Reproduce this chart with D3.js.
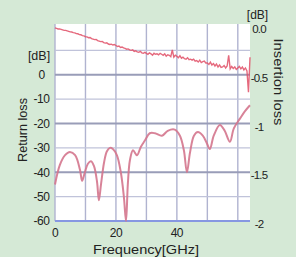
<!DOCTYPE html>
<html>
<head>
<meta charset="utf-8">
<script src="https://cdn.jsdelivr.net/npm/d3@7"></script>
<style>
  body { margin: 0; background: #d5e9d6; }
  svg { display: block; font-family: "Liberation Sans", Arial, sans-serif; }
  text { fill: #222; }
</style>
</head>
<body>
<svg id="chart" width="296" height="257"></svg>
<script>
// return loss [GHz, dB]
const rlFreq = [0, 1.6, 3.3, 4.9, 6.6, 8.2, 8.9, 9.8, 10.8, 11.8, 12.8, 13.8, 14.4, 15.1, 16.1, 17, 18, 19, 20.3, 21.6, 22.6, 23.3, 23.9, 24.6, 25.6, 26.9, 28.2, 29.5, 31.1, 32.8, 35.1, 37, 39.3, 41, 42.3, 43.3, 44.3, 45.6, 46.9, 48.5, 49.8, 50.8, 52.1, 54.1, 55.7, 57.4, 58.7, 60.7, 62.3, 64];
const rlLoss = [-45, -37, -33, -31.7, -33, -39, -43.5, -40, -36.5, -35.5, -37.5, -44, -51.5, -45, -36, -31.5, -30, -30.5, -33, -40, -50, -60, -45, -35, -31, -33, -29.5, -27, -24, -24, -25, -23, -22.5, -25, -31, -40, -32, -25, -23.5, -25, -28, -30.5, -25, -20.6, -23, -27.5, -22, -18, -15, -12.5];

// insertion loss, every 0.5 GHz from 0 to 64 [dB]
const ilLoss = [
  -0.02, -0.025, -0.03, -0.03, -0.035, -0.04, -0.045, -0.045, -0.05, -0.055,
  -0.06, -0.062, -0.068, -0.07, -0.078, -0.08, -0.088, -0.09, -0.098, -0.102,
  -0.11, -0.112, -0.12, -0.118, -0.13, -0.135, -0.14, -0.138, -0.15, -0.155,
  -0.16, -0.158, -0.17, -0.175, -0.172, -0.185, -0.19, -0.186, -0.195, -0.19,
  -0.2, -0.21, -0.205, -0.22, -0.215, -0.225, -0.23, -0.238, -0.235, -0.245,
  -0.25, -0.245, -0.26, -0.255, -0.265, -0.27, -0.26, -0.275, -0.28, -0.27,
  -0.28, -0.29, -0.275, -0.285, -0.3, -0.28, -0.29, -0.285, -0.295, -0.28,
  -0.29, -0.3, -0.285, -0.31, -0.295, -0.3, -0.315, -0.245, -0.32, -0.3,
  -0.31, -0.325, -0.305, -0.33, -0.32, -0.335, -0.34, -0.325, -0.345, -0.34,
  -0.35, -0.34, -0.36, -0.355, -0.37, -0.35, -0.375, -0.365, -0.36, -0.38,
  -0.38, -0.395, -0.37, -0.4, -0.385, -0.41, -0.39, -0.42, -0.4, -0.425,
  -0.42, -0.405, -0.43, -0.41, -0.3, -0.44, -0.415, -0.435, -0.42, -0.445,
  -0.43, -0.415, -0.44, -0.42, -0.45, -0.43, -0.46, -0.68, -0.32
];
const ilFreq = ilLoss.map((d, i) => i * 0.5);

const xTickLabels = [0, 20, 40];
const leftTicks = [0, -10, -20, -30, -40, -50, -60];
const rightTicks = ["0.0", "-0.5", "-1", "-1.5", "-2"];

const svg = d3.select("#chart");

const x = d3.scaleLinear().domain([0, 64]).range([55, 250]);
const yL = d3.scaleLinear().domain([-60, 20]).range([221, 26]);
const yR = d3.scaleLinear().domain([-2, 0]).range([221, 26]);

// plot background
svg.append("rect")
  .attr("x", x(0)).attr("y", 24)
  .attr("width", x(64) - x(0)).attr("height", 198)
  .attr("fill", "#fff");

// grid
const grid = svg.append("g");
grid.selectAll(".vg")
  .data(d3.range(0, 61, 10))
  .join("line")
  .attr("x1", d => x(d)).attr("x2", d => x(d))
  .attr("y1", 24).attr("y2", 221)
  .attr("stroke", "#b0b3d0")
  .attr("stroke-width", 1.4);

grid.selectAll(".hg")
  .data(d3.range(-50, 20, 10))
  .join("line")
  .attr("x1", x(0)).attr("x2", x(64))
  .attr("y1", d => yL(d)).attr("y2", d => yL(d))
  .attr("stroke", d => d % 20 === 0 ? "#999db8" : "#c0c3da")
  .attr("stroke-width", d => d % 20 === 0 ? 2 : 1.2);

grid.append("line")
  .attr("x1", x(0)).attr("x2", x(64))
  .attr("y1", yL(-60)).attr("y2", yL(-60))
  .attr("stroke", "#8797e2")
  .attr("stroke-width", 2);

// curves
const rlLine = d3.line()
  .x(d => x(d[0])).y(d => yL(d[1]))
  .curve(d3.curveCatmullRom.alpha(0.5));

svg.append("path")
  .datum(d3.zip(rlFreq, rlLoss))
  .attr("d", rlLine)
  .attr("fill", "none")
  .attr("stroke", "#d4768d")
  .attr("stroke-width", 2)
  .attr("stroke-opacity", 0.9);

const ilLine = d3.line()
  .x(d => x(d[0])).y(d => yR(d[1]));

svg.append("path")
  .datum(d3.zip(ilFreq, ilLoss))
  .attr("d", ilLine)
  .attr("fill", "none")
  .attr("stroke", "#e04f66")
  .attr("stroke-width", 1.4)
  .attr("stroke-opacity", 0.85);

// left axis labels
svg.selectAll(".lt")
  .data(leftTicks)
  .join("text")
  .attr("x", 41.5).attr("y", d => yL(d))
  .attr("dy", "0.36em")
  .attr("text-anchor", "middle")
  .attr("font-size", 12)
  .attr("letter-spacing", -0.5)
  .text(d => d);

svg.append("text")
  .attr("x", 39).attr("y", 60)
  .attr("text-anchor", "middle")
  .attr("font-size", 12.5)
  .text("[dB]");

// right axis labels
svg.selectAll(".rt")
  .data(rightTicks)
  .join("text")
  .attr("x", 259).attr("y", d => yR(+d) + 3)
  .attr("dy", "0.36em")
  .attr("text-anchor", "middle")
  .attr("font-size", 11.5)
  .attr("letter-spacing", -0.8)
  .text(d => d);

svg.append("text")
  .attr("x", 257.5).attr("y", 19)
  .attr("text-anchor", "middle")
  .attr("font-size", 12)
  .text("[dB]");

// bottom axis labels
svg.selectAll(".bt")
  .data(xTickLabels)
  .join("text")
  .attr("x", d => x(d)).attr("y", 237)
  .attr("text-anchor", "middle")
  .attr("font-size", 12)
  .attr("letter-spacing", -0.5)
  .text(d => d);

// titles
svg.append("text")
  .attr("x", 146).attr("y", 254)
  .attr("text-anchor", "middle")
  .attr("font-size", 12.5)
  .attr("textLength", 106)
  .attr("lengthAdjust", "spacingAndGlyphs")
  .text("Frequency[GHz]");

svg.append("text")
  .attr("transform", "translate(27,130) rotate(-90)")
  .attr("text-anchor", "middle")
  .attr("font-size", 12.5)
  .attr("textLength", 64)
  .attr("lengthAdjust", "spacingAndGlyphs")
  .text("Return loss");

svg.append("text")
  .attr("transform", "translate(274,82) rotate(90)")
  .attr("text-anchor", "middle")
  .attr("font-size", 12.5)
  .attr("textLength", 87)
  .attr("lengthAdjust", "spacingAndGlyphs")
  .text("Insertion loss");
</script>
</body>
</html>
